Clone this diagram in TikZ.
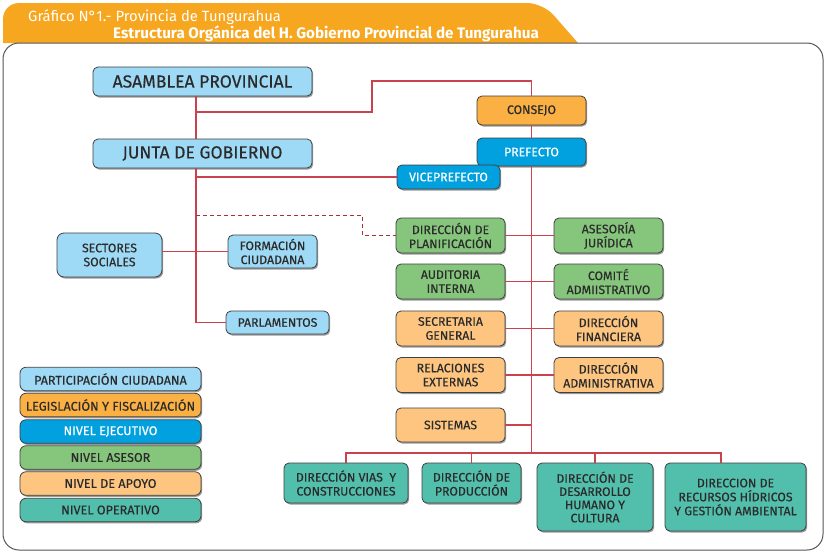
\documentclass[tikz,border=0pt]{standalone}
\usepackage{fontspec}
\setmainfont{Fira Sans}[UprightFeatures={FakeBold=0.35}]
\newfontfamily\hdrfont{Fira Sans}
\usetikzlibrary{shadows,calc}
\definecolor{lblue}{HTML}{9ED9F6}
\definecolor{corange}{HTML}{FAB042}
\definecolor{eblue}{HTML}{00A1DE}
\definecolor{agreen}{HTML}{86C67C}
\definecolor{lorange}{HTML}{FDC57F}
\definecolor{oteal}{HTML}{52BEAC}
\definecolor{tabor}{HTML}{F6A71F}
\definecolor{linered}{HTML}{C8434D}
\definecolor{dashred}{HTML}{A8323A}
\definecolor{txt}{HTML}{2B2B2B}
\definecolor{framec}{HTML}{555555}
\tikzset{
  box/.style={draw=txt!90, line width=0.8pt, rounded corners=5pt, align=center,
    inner sep=0pt, text=txt, font=\fontsize{12.3}{14}\selectfont,
    drop shadow={shadow xshift=1.2pt, shadow yshift=-1.5pt, fill=black!40, opacity=1}},
  bigbox/.style={box, minimum width=219pt, minimum height=29pt, fill=lblue,
    font=\fontsize{17.5}{19}\selectfont},
  legbox/.style={box, minimum width=181pt, minimum height=23.5pt, rounded corners=6pt,
    font=\fontsize{12.6}{14}\selectfont},
  mid/.style={box, minimum width=109pt, minimum height=35pt},
  conn/.style={draw=linered, line width=1.2pt},
  dconn/.style={draw=dashred, line width=1pt, dash pattern=on 4pt off 3pt}
}
\begin{document}
\begin{tikzpicture}[x=1pt,y=-1pt]
\useasboundingbox (0,0) rectangle (824,552);
% header tab and frame
\fill[tabor] (3,43) [rounded corners=16pt]-- (3,3) -- (543,3) [rounded corners=0pt]-- (578,43) -- cycle;
\filldraw[fill=white, draw=framec, line width=1pt, rounded corners=16pt] (3,43) rectangle (823,550);
\node[anchor=base west, text=white, font=\hdrfont\fontsize{14.8}{16}\selectfont, inner sep=0pt] (t1) at (28,21.5) {Gráfico N°1.- Provincia de Tungurahua};
\node[anchor=base west, text=white, font=\fontsize{15.2}{16}\selectfont\bfseries, inner sep=0pt] (t2) at (113,38.5) {Estructura Orgánica del H. Gobierno Provincial de Tungurahua};

% spine coordinates
\coordinate (ls) at (196,0);
\coordinate (ms) at (531.5,0);
\coordinate (j1) at (196,112);
\coordinate (b1) at (372,112);
\coordinate (b2) at (372,81);
\coordinate (j2) at (196,177);
\coordinate (j3) at (196,215);
\coordinate (d1) at (362,215);
\coordinate (busL) at (346,453);
\coordinate (busR) at (531.5,453);
\coordinate (busE) at (721,453);

% nodes
\node[bigbox] (asam) at (202.5,81.5) {ASAMBLEA PROVINCIAL};
\node[bigbox] (junta) at (202.5,153.5) {JUNTA DE GOBIERNO};
\node[box, fill=corange, minimum width=109pt, minimum height=29pt] (consejo) at (531.5,110.5) {CONSEJO};
\node[box, fill=eblue, text=white, minimum width=109pt, minimum height=28pt] (pref) at (531.5,152) {PREFECTO};
\node[box, fill=eblue, text=white, minimum width=103pt, minimum height=24pt] (vice) at (448.5,177) {VICEPREFECTO};
\node[box, fill=lblue, minimum width=105pt, minimum height=44pt, rounded corners=7pt] (sect) at (109.5,255) {SECTORES\\SOCIALES};
\node[box, fill=lblue, minimum width=89pt, minimum height=33pt] (form) at (272.5,251.5) {FORMACIÓN\\CIUDADANA};
\node[box, fill=lblue, minimum width=103pt, minimum height=23pt] (parl) at (277.5,322.5) {PARLAMENTOS};

\node[mid, fill=agreen] (plan) at (450.5,235.5) {DIRECCIÓN DE\\PLANIFICACIÓN};
\node[mid, fill=agreen] (ases) at (608.5,235.5) {ASESORÍA\\JURÍDICA};
\node[mid, fill=agreen] (aud) at (450.5,281.5) {AUDITORIA\\INTERNA};
\node[mid, fill=agreen] (comi) at (608.5,281.5) {COMITÉ\\ADMIISTRATIVO};
\node[mid, fill=lorange] (sec) at (450.5,328.5) {SECRETARIA\\GENERAL};
\node[mid, fill=lorange] (fin) at (608.5,328.5) {DIRECCIÓN\\FINANCIERA};
\node[mid, fill=lorange] (rel) at (450.5,375) {RELACIONES\\EXTERNAS};
\node[mid, fill=lorange] (adm) at (608.5,375) {DIRECCIÓN\\ADMINISTRATIVA};
\node[mid, fill=lorange, minimum height=34pt] (sist) at (450.5,425) {SISTEMAS};

\node[box, fill=oteal, minimum width=124pt, minimum height=40pt] (vias) at (346,483) {DIRECCIÓN VIAS\ \ Y\\CONSTRUCCIONES};
\node[box, fill=oteal, minimum width=99pt, minimum height=40pt] (prod) at (471.5,483) {DIRECCIÓN DE\\PRODUCCIÓN};
\node[box, fill=oteal, minimum width=116pt, minimum height=68pt, font=\fontsize{12.3}{13.2}\selectfont] (des) at (595,497) {DIRECCIÓN DE\\DESARROLLO\\HUMANO Y\\CULTURA};
\node[box, fill=oteal, minimum width=141pt, minimum height=68pt] (rec) at (735.5,497) {DIRECCION DE\\RECURSOS HÍDRICOS\\Y GESTIÓN AMBIENTAL};

% legend
\node[legbox, fill=lblue] (l1) at (110.5,379) {PARTICIPACIÓN CIUDADANA};
\node[legbox, fill=corange] (l2) at (110.5,405) {LEGISLACIÓN Y FISCALIZACIÓN};
\node[legbox, fill=eblue, text=white] (l3) at (110.5,431.5) {NIVEL EJECUTIVO};
\node[legbox, fill=agreen] (l4) at (110.5,457.5) {NIVEL ASESOR};
\node[legbox, fill=lorange] (l5) at (110.5,483.5) {NIVEL DE APOYO};
\node[legbox, fill=oteal] (l6) at (110.5,510) {NIVEL OPERATIVO};

% connectors
\draw[conn] (asam.south -| ls) -- (junta.north -| ls);
\draw[conn] (junta.south -| ls) |- (parl.west);
\draw[conn] (j1) -- (b1) -- (b2) -| (consejo.north);
\draw[conn] (consejo.south) -- (pref.north);
\draw[conn] (pref.south) -- (busR);
\draw[conn] (j2) -- (vice.west);
\draw[dconn] (j3) -- (d1) |- (plan.west);
\draw[conn] (sect.east |- form.west) -- (form.west);
\draw[conn] (plan.east) -- (ases.west);
\draw[conn] (aud.east) -- (comi.west);
\draw[conn] (sec.east) -- (fin.west);
\draw[conn] (rel.east) -- (adm.west);
\draw[conn] (sist.east) -- (sist.east -| ms);
\draw[conn] (vias.north) -- (busL) -- (busE) -- (busE |- rec.north);
\draw[conn] (prod.north) -- (prod.north |- busL);
\draw[conn] (des.north) -- (des.north |- busL);
\end{tikzpicture}
\end{document}
